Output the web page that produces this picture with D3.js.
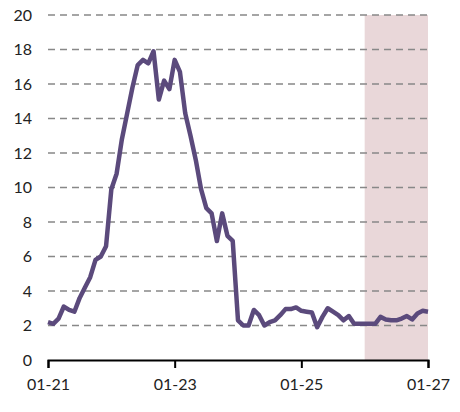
<!DOCTYPE html>
<html><head><meta charset="utf-8">
<script src="https://cdn.jsdelivr.net/npm/d3@7"></script>
<style>body{margin:0;background:#fff}text{font-family:Lato,"Open Sans",sans-serif}</style>
</head><body><div id="chart"></div>
<script>
var months = [0,1,2,3,4,5,6,7,8,9,10,11,12,13,14,15,16,17,18,19,20,21,22,23,24,25,26,27,28,29,30,31,32,33,34,35,36,37,38,39,40,41,42,43,44,45,46,47,48,49,50,51,52,53,54,55,56,57,58,59,60,61,62,63,64,65,66,67,68,69,70,71,72];
var values = [2.2,2.1,2.4,3.1,2.9,2.8,3.6,4.2,4.8,5.8,6.0,6.6,9.9,10.8,12.8,14.3,15.8,17.1,17.4,17.2,17.9,15.1,16.2,15.7,17.4,16.7,14.3,13.0,11.6,9.9,8.8,8.5,6.9,8.5,7.2,6.9,2.3,2.0,2.0,2.9,2.6,2.0,2.2,2.3,2.6,2.95,2.95,3.05,2.85,2.8,2.75,1.9,2.5,3.0,2.8,2.6,2.3,2.55,2.1,2.1,2.1,2.1,2.1,2.5,2.35,2.3,2.3,2.4,2.55,2.35,2.7,2.85,2.8];
var yTicks = [0,2,4,6,8,10,12,14,16,18,20];
var xTicks = [0,24,48,72];
var xTickLabels = ["01-21","01-23","01-25","01-27"];
var shadeStart = 60, shadeEnd = 72;

var W = 460, H = 412, m = {top:15, right:32, bottom:52, left:48};
var svg = d3.select("#chart").append("svg").attr("width", W).attr("height", H);
var g = svg.append("g").attr("transform", "translate(" + m.left + "," + m.top + ")");
var w = W - m.left - m.right, h = H - m.top - m.bottom;

var x = d3.scaleLinear().domain([0, 72]).range([0, w]);
var y = d3.scaleLinear().domain([0, 20]).range([h, 0]);

g.append("rect")
  .attr("x", x(shadeStart)).attr("y", y(20))
  .attr("width", x(shadeEnd) - x(shadeStart)).attr("height", y(0) - y(20))
  .attr("fill", "#e9d7d9");

g.selectAll(".grid").data(yTicks.slice(1)).enter().append("line")
  .attr("x1", 0).attr("x2", w)
  .attr("y1", d => y(d)).attr("y2", d => y(d))
  .attr("stroke", "#888").attr("stroke-width", 1.6).attr("stroke-dasharray", "7,5");

g.selectAll(".ylab").data(yTicks).enter().append("text")
  .attr("x", -16).attr("y", d => y(d)).attr("dy", "0.35em")
  .attr("text-anchor", "end").attr("font-size", 16).attr("fill", "#222")
  .text(d => d);

var line = d3.line().x((d, i) => x(months[i])).y(d => y(d));
g.append("path").datum(values)
  .attr("d", line).attr("fill", "none")
  .attr("stroke", "#5b4a7c").attr("stroke-width", 4.5)
  .attr("stroke-linejoin", "round");

var xa = g.append("g").attr("transform", "translate(0," + h + ")")
  .call(d3.axisBottom(x).tickValues(xTicks).tickSize(8).tickFormat((d, i) => xTickLabels[i]));
xa.select(".domain").attr("stroke", "#000").attr("stroke-width", 2);
xa.selectAll(".tick line").attr("stroke", "#000").attr("stroke-width", 2);
xa.selectAll(".tick text").attr("font-size", 16).attr("fill", "#222").attr("dy", "1.2em")
  .style("font-family", "Lato, 'Open Sans', sans-serif");
</script></body></html>
